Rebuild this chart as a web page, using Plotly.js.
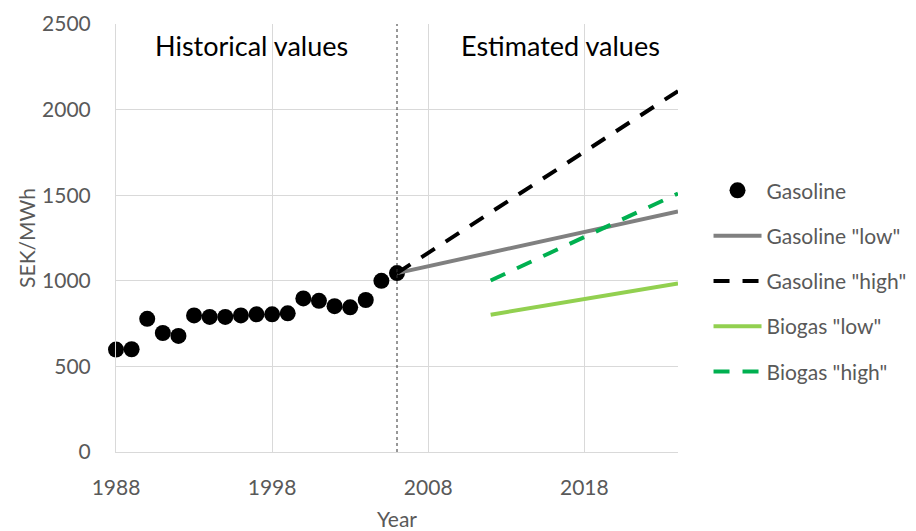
<!DOCTYPE html>
<html>
<head>
<meta charset="utf-8">
<script src="https://cdn.plot.ly/plotly-3.0.1.min.js"></script>
<style>html,body{margin:0;padding:0;background:#fff;}#chart{width:916px;height:531px;}</style>
</head>
<body>
<div id="chart"></div>
<script>
// Historical gasoline prices (SEK/MWh)
var histYears = [1988,1989,1990,1991,1992,1993,1994,1995,1996,1997,1998,1999,2000,2001,2002,2003,2004,2005,2006];
var histGasoline = [598,600,778,695,678,798,789,789,798,804,804,810,897,883,852,845,888,1000,1045];

// Estimated scenarios
var gasYears = [2006, 2024];
var gasLow = [1045, 1405];
var gasHigh = [1045, 2108];
var bioYears = [2012, 2024];
var bioLow = [802, 985];
var bioHigh = [1002, 1510];

var xTicks = [1988, 1998, 2008, 2018];
var yTicks = [0, 500, 1000, 1500, 2000, 2500];
var splitYear = 2006;

var FONT = 'Lato, "Open Sans", sans-serif';
var GREY = '#595959';

var traces = [
  {x: histYears, y: histGasoline, name: 'Gasoline', mode: 'markers', type: 'scatter',
   marker: {color: '#000000', size: 16}, cliponaxis: false, legendgroup: 'a'},
  {x: gasYears, y: gasLow, name: 'Gasoline "low"', mode: 'lines', type: 'scatter',
   line: {color: '#808080', width: 4}, legendgroup: 'b'},
  {x: gasYears, y: gasHigh, name: 'Gasoline "high"', mode: 'lines', type: 'scatter',
   line: {color: '#000000', width: 4, dash: '16px,13px'}, legendgroup: 'c'},
  {x: bioYears, y: bioLow, name: 'Biogas "low"', mode: 'lines', type: 'scatter',
   line: {color: '#92d050', width: 4}, legendgroup: 'd'},
  {x: bioYears, y: bioHigh, name: 'Biogas "high"', mode: 'lines', type: 'scatter',
   line: {color: '#00b050', width: 4, dash: '16px,13px'}, legendgroup: 'e'}
];

var layout = {
  width: 916, height: 531,
  margin: {l: 116, r: 238, t: 24, b: 79},
  paper_bgcolor: '#ffffff', plot_bgcolor: '#ffffff',
  font: {family: FONT, color: GREY, size: 21},
  showlegend: true,
  legend: {xref: 'container', yref: 'container', x: 0.7735, xanchor: 'left', y: 0.6795, yanchor: 'top',
           font: {size: 21, color: GREY, family: FONT},
           tracegroupgap: 15, bgcolor: 'rgba(0,0,0,0)', itemwidth: 48},
  xaxis: {range: [1988, 2024], tickvals: xTicks, ticktext: xTicks.map(String),
          showgrid: true, gridcolor: '#d9d9d9', gridwidth: 1, zeroline: false,
          showline: true, linecolor: '#d9d9d9', linewidth: 1,
          ticks: 'outside', ticklen: 17, tickcolor: 'rgba(0,0,0,0)',
          tickfont: {size: 21, color: GREY, family: FONT},
          title: {text: 'Year', font: {size: 21, color: GREY, family: FONT}, standoff: 14}},
  yaxis: {range: [0, 2500], tickvals: yTicks, ticktext: yTicks.map(String),
          showgrid: true, gridcolor: '#d9d9d9', gridwidth: 1, zeroline: false,
          showline: true, linecolor: '#d9d9d9', linewidth: 1,
          ticks: 'outside', ticklen: 20, tickcolor: 'rgba(0,0,0,0)',
          tickfont: {size: 21, color: GREY, family: FONT},
          title: {text: 'SEK/MWh', font: {size: 21, color: GREY, family: FONT}, standoff: 0}},
  shapes: [
    {type: 'line', xref: 'x', yref: 'y', x0: splitYear, x1: splitYear, y0: 0, y1: 2500,
     line: {color: '#303030', width: 1, dash: '3px,3px'}}
  ],
  annotations: [
    {text: 'Historical values', xref: 'x', yref: 'paper', x: 1996.7, y: 0.9486, yanchor: 'middle', xanchor: 'center',
     showarrow: false, font: {size: 27, color: '#000000', family: FONT}},
    {text: 'Estimated values', xref: 'x', yref: 'paper', x: 2016.5, y: 0.9486, yanchor: 'middle', xanchor: 'center',
     showarrow: false, font: {size: 27, color: '#000000', family: FONT}}
  ]
};

Plotly.newPlot('chart', traces, layout, {displayModeBar: false, staticPlot: true});
</script>
</body>
</html>
